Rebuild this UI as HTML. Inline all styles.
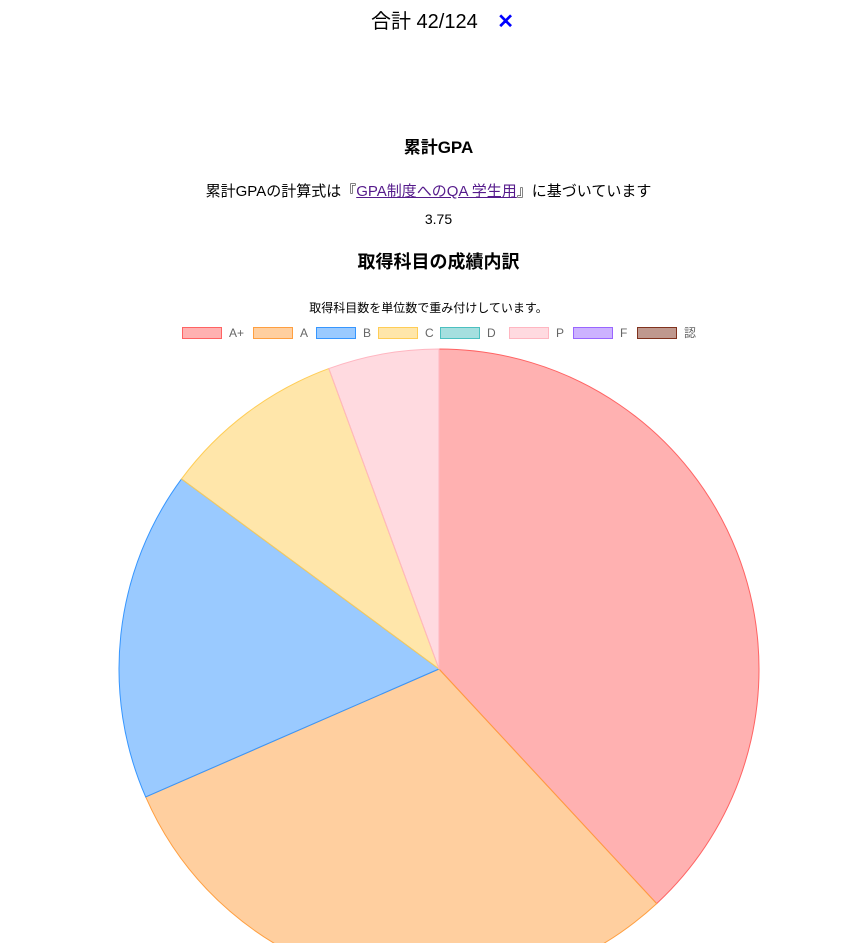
<!DOCTYPE html>
<html><head><meta charset="utf-8">
<style>
body{margin:0;width:857px;height:943px;overflow:hidden;background:#fff;font-family:"Liberation Sans","Noto Sans CJK JP",sans-serif;color:#000;position:relative}
.abs{position:absolute;left:0;width:857px;text-align:center;white-space:nowrap}
a{color:#551a8b}
</style></head><body>
<div class="abs" style="top:5px;font-size:20px;left:14px">合計 42/124 <span style="color:#0000ff;font-weight:bold;margin-left:14px">✕</span></div>
<div class="abs" style="top:133px;font-size:17px;font-weight:bold;left:10px">累計GPA</div>
<div class="abs" style="top:180px;font-size:15px">累計GPAの計算式は『<a href="#">GPA制度へのQA 学生用</a>』に基づいています</div>
<div class="abs" style="top:211px;font-size:14px;left:10px">3.75</div>
<div class="abs" style="top:248px;font-size:18px;font-weight:bold;left:10px">取得科目の成績内訳</div>
<div class="abs" style="top:299px;font-size:12px">取得科目数を単位数で重み付けしています。</div>
<svg id="chart" width="857" height="943" style="position:absolute;left:0;top:0" font-family="Liberation Sans, Noto Sans CJK JP, sans-serif"></svg>
<script>
const labels=["A+","A","B","C","D","P","F","認"];
const values=[16,12.75,7,3.9,0,2.35,0,0];
const fills=["rgba(255,99,99,0.5)","rgba(255,159,64,0.5)","rgba(54,150,255,0.5)","rgba(255,205,86,0.5)","rgba(75,192,192,0.5)","rgba(255,182,193,0.5)","rgba(153,102,255,0.5)","rgba(128,50,30,0.5)"];
const strokes=["rgb(255,99,99)","rgb(255,159,64)","rgb(54,150,255)","rgb(255,205,86)","rgb(75,192,192)","rgb(255,182,193)","rgb(153,102,255)","rgb(128,50,30)"];
const svg=document.getElementById('chart');
const NS="http://www.w3.org/2000/svg";
const cx=439,cy=669,r=320;
const legX=[182,253,316,378,440,509,573,637];
labels.forEach((l,i)=>{
  const g=document.createElementNS(NS,'g');
  
  
  const b=document.createElementNS(NS,'rect');
  b.setAttribute('x',legX[i]+0.5);b.setAttribute('y',327.5);b.setAttribute('width',39);b.setAttribute('height',11);
  b.setAttribute('fill',fills[i]);b.setAttribute('stroke',strokes[i]);
  const t=document.createElementNS(NS,'text');
  t.setAttribute('x',legX[i]+47);t.setAttribute('y',337);t.setAttribute('font-size',12);t.setAttribute('fill','#666');
  t.textContent=l;
  g.appendChild(b);g.appendChild(t);svg.appendChild(g);
});
const total=values.reduce((a,b)=>a+b,0);
let acc=0;
function pt(a){return [cx+r*Math.sin(a),cy-r*Math.cos(a)];}
values.forEach((v,i)=>{
  if(v<=0)return;
  const a0=acc/total*2*Math.PI;acc+=v;const a1=acc/total*2*Math.PI;
  const p0=pt(a0),p1=pt(a1);
  const p=document.createElementNS(NS,'path');
  p.setAttribute('d',`M${cx},${cy}L${p0[0]},${p0[1]}A${r},${r} 0 ${a1-a0>Math.PI?1:0} 1 ${p1[0]},${p1[1]}Z`);
  p.setAttribute('fill',fills[i]);p.setAttribute('stroke',strokes[i]);p.setAttribute('stroke-width',1);
  
  
  svg.appendChild(p);
});
</script>
</body></html>
